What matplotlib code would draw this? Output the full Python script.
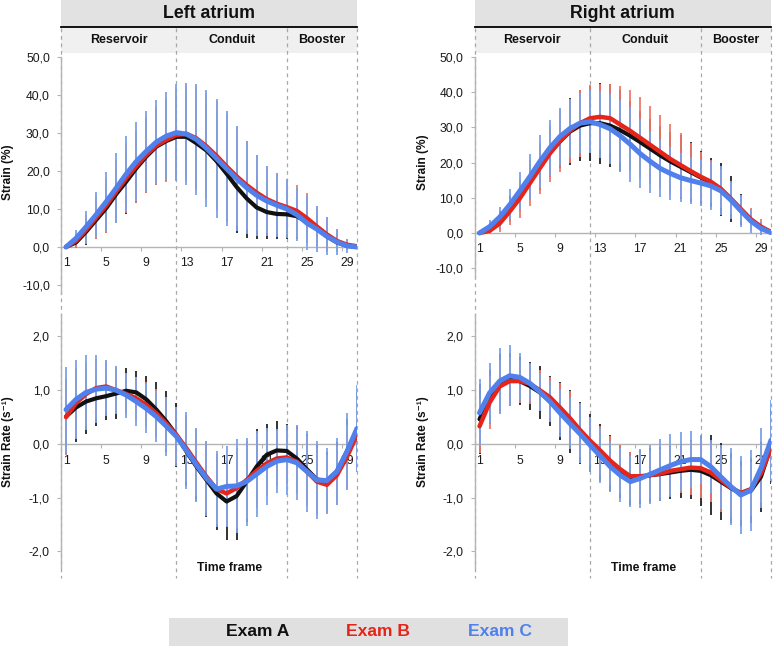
import matplotlib
matplotlib.use('Agg')
import matplotlib.pyplot as plt
from matplotlib.patches import Rectangle
from matplotlib.lines import Line2D
from matplotlib.transforms import blended_transform_factory

plt.rcParams['font.family'] = ['Liberation Sans', 'DejaVu Sans']

# ---------------- data ----------------
frames = list(range(1, 31))
x_tick_labels = [1, 5, 9, 13, 17, 21, 25, 29]
x_tick_marks = [0.5, 4.5, 8.5, 12.5, 16.5, 20.5, 24.5, 28.5]
phase_names = ['Reservoir', 'Conduit', 'Booster']
phase_bounds = [0.5, 12, 23, 30]
panel_titles = ['Left atrium', 'Right atrium']
exam_names = ['Exam A', 'Exam B', 'Exam C']
strain_ticks = [-10, 0, 10, 20, 30, 40, 50]
rate_ticks = [-2, -1, 0, 1, 2]

# Left atrium strain (%)
la_strain_A = [0, 1.2, 4.0, 7.1, 10.2, 13.9, 17.2, 20.7, 23.8, 26.4, 27.9, 29.0, 29.0, 27.3, 25.4,
               22.6, 19.3, 15.8, 12.8, 10.4, 9.2, 8.7, 8.6, 8.1, 6.6, 4.8, 2.8, 1.2, 0.3, 0.0]
la_strain_B = [0, 1.6, 4.5, 7.7, 10.9, 14.6, 18.1, 21.3, 24.2, 26.7, 28.2, 29.5, 29.8, 28.6, 26.5,
               24.0, 21.2, 18.6, 16.3, 14.3, 12.6, 11.4, 10.5, 9.5, 7.6, 5.4, 3.3, 1.6, 0.6, 0.2]
la_strain_C = [0, 2.3, 5.3, 8.5, 11.9, 15.5, 19.2, 22.5, 25.2, 27.6, 29.2, 30.1, 29.7, 28.3, 26.0,
               23.3, 20.6, 18.0, 15.6, 13.6, 12.1, 11.0, 10.0, 8.5, 6.3, 4.7, 2.8, 1.3, 0.3, 0.0]
la_strain_sd_A = [0, 1.5, 3.5, 5.0, 6.5, 7.5, 8.5, 9.0, 9.5, 10.0, 10.5, 11.0, 11.5, 12.0, 12.5,
                  12.5, 12.5, 12.0, 10.5, 8.3, 7.2, 6.7, 6.5, 6.0, 5.5, 4.5, 3.5, 2.2, 1.0, 0]
la_strain_sd_B = [0, 1.8, 3.8, 5.6, 7.2, 8.4, 9.2, 9.6, 10.0, 10.4, 11.0, 12.0, 12.5, 13.5, 14.0,
                  14.5, 14.0, 13.0, 11.5, 10.0, 8.8, 8.0, 7.3, 6.8, 6.5, 5.5, 4.5, 3.0, 1.5, 0]
la_strain_sd_C = [0, 2.1, 4.2, 6.1, 7.9, 9.2, 9.9, 10.5, 10.6, 11.0, 11.6, 12.7, 13.4, 14.6, 15.4,
                  15.7, 15.2, 13.9, 12.3, 10.7, 9.3, 8.3, 7.6, 6.9, 7.1, 6.0, 5.0, 3.4, 1.8, 0]

# Right atrium strain (%)
ra_strain_A = [0, 1.3, 3.7, 7.0, 10.8, 14.8, 18.8, 22.8, 26.0, 28.8, 30.5, 31.2, 31.2, 30.5, 29.2,
               27.6, 25.8, 23.9, 22.0, 20.3, 18.8, 17.3, 15.8, 14.4, 12.4, 9.6, 6.7, 3.8, 1.6, 0.2]
ra_strain_B = [0, 0.6, 2.7, 6.1, 9.8, 14.1, 18.4, 22.6, 26.1, 29.0, 31.2, 32.6, 33.0, 32.6, 30.8,
               29.0, 27.0, 25.0, 23.0, 21.0, 19.3, 17.6, 16.0, 14.6, 12.6, 9.8, 6.8, 3.9, 1.8, 0.3]
ra_strain_C = [0, 1.8, 4.5, 8.0, 11.9, 16.0, 20.3, 24.2, 27.4, 29.7, 31.2, 31.6, 30.8, 29.6, 27.6,
               25.2, 22.5, 20.3, 18.3, 16.9, 15.7, 14.9, 14.2, 13.4, 12.0, 9.4, 6.3, 3.4, 1.3, 0.1]
ra_strain_sd_A = [0, 1.2, 2.5, 3.5, 4.5, 5.5, 6.5, 7.0, 7.5, 9.5, 10.0, 10.7, 11.5, 11.8, 11.5,
                  10.0, 9.0, 8.5, 8.5, 8.5, 9.0, 8.5, 7.5, 7.0, 7.5, 6.5, 4.5, 2.5, 1.5, 0]
ra_strain_sd_B = [0, 1.0, 2.3, 3.7, 5.5, 6.5, 7.2, 8.0, 8.8, 9.2, 9.5, 9.5, 9.3, 9.8, 11.0,
                  11.5, 11.5, 11.0, 10.5, 10.0, 9.0, 8.0, 7.0, 6.0, 5.5, 4.5, 3.5, 3.3, 2.1, 0]
ra_strain_sd_C = [0, 1.8, 3.0, 4.4, 5.5, 6.5, 7.5, 8.0, 8.0, 8.5, 8.5, 9.0, 9.5, 10.0, 10.3,
                  10.6, 9.8, 8.8, 8.0, 7.5, 7.0, 6.8, 6.5, 6.8, 7.0, 5.5, 4.5, 3.5, 1.8, 0]

# Left atrium strain rate (1/s)
la_rate_A = [0.51, 0.68, 0.79, 0.85, 0.89, 0.94, 0.99, 0.96, 0.83, 0.64, 0.42, 0.17, -0.14, -0.42, -0.67,
             -0.92, -1.07, -0.97, -0.70, -0.42, -0.20, -0.12, -0.13, -0.27, -0.47, -0.66, -0.69, -0.51, -0.14, 0.26]
la_rate_B = [0.50, 0.76, 0.93, 1.04, 1.07, 1.00, 0.93, 0.85, 0.73, 0.57, 0.38, 0.17, -0.08, -0.35, -0.61,
             -0.84, -0.92, -0.82, -0.67, -0.50, -0.36, -0.27, -0.25, -0.33, -0.51, -0.70, -0.76, -0.58, -0.24, 0.17]
la_rate_C = [0.64, 0.83, 0.96, 1.02, 1.04, 1.00, 0.91, 0.79, 0.66, 0.51, 0.33, 0.14, -0.12, -0.39, -0.64,
             -0.84, -0.79, -0.78, -0.70, -0.56, -0.42, -0.32, -0.29, -0.35, -0.51, -0.67, -0.68, -0.51, -0.14, 0.29]
la_rate_sd_A = [0.70, 0.65, 0.60, 0.52, 0.45, 0.47, 0.42, 0.39, 0.44, 0.52, 0.57, 0.59, 0.65, 0.65, 0.68,
                0.68, 0.72, 0.82, 0.75, 0.70, 0.58, 0.55, 0.50, 0.60, 0.65, 0.65, 0.55, 0.55, 0.60, 0.70]
la_rate_sd_B = [0.70, 0.65, 0.60, 0.55, 0.48, 0.43, 0.39, 0.40, 0.42, 0.45, 0.50, 0.52, 0.62, 0.62, 0.65,
                0.65, 0.60, 0.75, 0.72, 0.70, 0.60, 0.52, 0.50, 0.60, 0.65, 0.62, 0.55, 0.55, 0.60, 0.70]
la_rate_sd_C = [0.80, 0.73, 0.70, 0.63, 0.52, 0.45, 0.42, 0.45, 0.45, 0.47, 0.55, 0.55, 0.71, 0.69, 0.70,
                0.71, 0.75, 0.88, 0.82, 0.80, 0.71, 0.60, 0.65, 0.70, 0.76, 0.72, 0.61, 0.63, 0.72, 0.81]

# Right atrium strain rate (1/s)
ra_rate_A = [0.46, 0.88, 1.13, 1.20, 1.17, 1.08, 0.96, 0.80, 0.62, 0.42, 0.21, 0.02, -0.16, -0.35, -0.51,
             -0.64, -0.61, -0.58, -0.56, -0.53, -0.50, -0.48, -0.50, -0.58, -0.70, -0.82, -0.92, -0.87, -0.61, -0.04]
ra_rate_B = [0.33, 0.77, 1.07, 1.17, 1.17, 1.12, 1.00, 0.87, 0.68, 0.48, 0.26, 0.06, -0.12, -0.31, -0.47,
             -0.60, -0.60, -0.58, -0.55, -0.50, -0.47, -0.44, -0.45, -0.53, -0.67, -0.81, -0.91, -0.84, -0.55, -0.08]
ra_rate_C = [0.58, 0.95, 1.17, 1.27, 1.24, 1.13, 0.97, 0.79, 0.58, 0.38, 0.19, -0.02, -0.22, -0.42, -0.58,
             -0.70, -0.64, -0.56, -0.48, -0.40, -0.33, -0.29, -0.29, -0.42, -0.61, -0.79, -0.95, -0.86, -0.45, 0.07]
ra_rate_sd_A = [0.65, 0.50, 0.55, 0.50, 0.45, 0.45, 0.50, 0.47, 0.54, 0.58, 0.58, 0.54, 0.53, 0.52, 0.50,
                0.50, 0.50, 0.50, 0.50, 0.50, 0.50, 0.55, 0.65, 0.75, 0.72, 0.65, 0.60, 0.60, 0.65, 0.70]
ra_rate_sd_B = [0.50, 0.50, 0.50, 0.45, 0.40, 0.38, 0.38, 0.38, 0.45, 0.50, 0.50, 0.45, 0.45, 0.45, 0.45,
                0.45, 0.45, 0.45, 0.45, 0.45, 0.45, 0.50, 0.55, 0.55, 0.60, 0.55, 0.50, 0.50, 0.55, 0.60]
ra_rate_sd_C = [0.62, 0.56, 0.61, 0.57, 0.45, 0.35, 0.35, 0.38, 0.45, 0.48, 0.55, 0.50, 0.51, 0.48, 0.50,
                0.48, 0.55, 0.55, 0.58, 0.58, 0.55, 0.53, 0.45, 0.50, 0.60, 0.72, 0.72, 0.75, 0.75, 0.75]

# ---------------- styling ----------------
line_colors = ['#111111', '#e5251a', '#4f80ec']
bar_colors = ['#222222', '#ef7a6c', '#7aa2ea']
line_widths = [3.0, 3.2, 3.6]
W, H = 777, 646
GRAY = '#b4b4b4'


def frect(x0, y0, x1, y1):
    return [x0 / W, 1 - y1 / H, (x1 - x0) / W, (y1 - y0) / H]


def fy(y):
    return 1 - y / H


fig = plt.figure(figsize=(W / 100, H / 100), dpi=100)

axLT = fig.add_axes(frect(61, 57, 357, 294.5))
axRT = fig.add_axes(frect(474.5, 57, 771, 277))
axLB = fig.add_axes(frect(61, 315, 357, 567.6))
axRB = fig.add_axes(frect(474.5, 315, 771, 567.6))

panels = [
    (axLT, [la_strain_A, la_strain_B, la_strain_C], [la_strain_sd_A, la_strain_sd_B, la_strain_sd_C],
     (-12.5, 50), strain_ticks, 11.6),
    (axRT, [ra_strain_A, ra_strain_B, ra_strain_C], [ra_strain_sd_A, ra_strain_sd_B, ra_strain_sd_C],
     (-12.5, 50), strain_ticks, 11.6),
    (axLB, [la_rate_A, la_rate_B, la_rate_C], [la_rate_sd_A, la_rate_sd_B, la_rate_sd_C],
     (-2.3, 2.4), rate_ticks, 12.2),
    (axRB, [ra_rate_A, ra_rate_B, ra_rate_C], [ra_rate_sd_A, ra_rate_sd_B, ra_rate_sd_C],
     (-2.3, 2.4), rate_ticks, 12.2),
]

for ax, means, sds, ylim, yticks, lab_off in panels:
    ax.patch.set_visible(False)
    ax.set_xlim(0.5, 30.0)
    ax.set_ylim(*ylim)
    for s in ['top', 'right', 'bottom']:
        ax.spines[s].set_visible(False)
    ax.spines['left'].set_color(GRAY)
    ax.spines['left'].set_linewidth(1.0)
    ax.set_xticks([])
    ax.set_yticks(yticks)
    ax.set_yticklabels([('%.1f' % v).replace('.', ',') for v in yticks])
    ax.tick_params(axis='y', direction='out', length=3, width=0.8, color=GRAY,
                   labelsize=8.7, pad=5, labelcolor='#1a1a1a')
    ax.axhline(0, color=GRAY, lw=1.0, zorder=1)
    ax.plot(x_tick_marks, [0] * len(x_tick_marks), ls='none', marker=3, ms=3,
            mew=0.8, color=GRAY, zorder=1)
    for f in x_tick_labels:
        ax.annotate(str(f), xy=(f, 0), xytext=(0, -lab_off), textcoords='offset points',
                    ha='center', va='center', fontsize=8.7, color='#1a1a1a', zorder=1)
    for i in range(3):
        ax.errorbar(frames, means[i], yerr=sds[i], fmt='none', ecolor=bar_colors[i],
                    elinewidth=1.3, capsize=0, zorder=2 + i * 0.1)
    for i in range(3):
        ax.plot(frames, means[i], color=line_colors[i], lw=line_widths[i],
                solid_capstyle='round', solid_joinstyle='round', zorder=3 + i * 0.1)

# headers, phase labels and dashed phase boundaries
for ax, title in [(axLT, panel_titles[0]), (axRT, panel_titles[1])]:
    tr = blended_transform_factory(ax.transData, fig.transFigure)
    x0, x1 = phase_bounds[0], phase_bounds[-1]
    fig.add_artist(Rectangle((x0, fy(27)), x1 - x0, 27 / H, transform=tr,
                             facecolor='#e2e2e2', edgecolor='none', zorder=-3))
    fig.add_artist(Rectangle((x0, fy(53)), x1 - x0, 25 / H, transform=tr,
                             facecolor='#f0f0f0', edgecolor='none', zorder=-3))
    fig.add_artist(Line2D([x0, x1], [fy(27), fy(27)], transform=tr, color='black',
                          lw=1.3, zorder=-2))
    fig.text((x0 + x1) / 2, fy(14), title, transform=tr, ha='center', va='center',
             fontsize=12.8, fontweight='bold', color='#111111')
    for b in phase_bounds:
        fig.add_artist(Line2D([b, b], [fy(28), fy(578)], transform=tr, color='#a8a8a8',
                              lw=0.9, ls=(0, (3, 3)), zorder=-1))
    for name, a, b in zip(phase_names, phase_bounds[:-1], phase_bounds[1:]):
        fig.text((a + b) / 2, fy(40), name, transform=tr, ha='center', va='center',
                 fontsize=9, fontweight='bold', color='#111111')

for ax in [axLB, axRB]:
    tr = blended_transform_factory(ax.transData, fig.transFigure)
    fig.text(17.3, fy(568), 'Time frame', transform=tr, ha='center', va='center',
             fontsize=8.8, fontweight='bold', color='#111111')

# y labels
fig.text(8 / W, fy(172), 'Strain (%)', rotation=90, ha='center', va='center',
         fontsize=8.6, fontweight='bold', color='#111111')
fig.text(423 / W, fy(162), 'Strain (%)', rotation=90, ha='center', va='center',
         fontsize=8.6, fontweight='bold', color='#111111')
fig.text(8 / W, fy(442), 'Strain Rate (s\u207b\u00b9)', rotation=90, ha='center', va='center',
         fontsize=8.6, fontweight='bold', color='#111111')
fig.text(423 / W, fy(442), 'Strain Rate (s\u207b\u00b9)', rotation=90, ha='center', va='center',
         fontsize=8.6, fontweight='bold', color='#111111')

# legend band
fig.add_artist(Rectangle((169 / W, 0), (568 - 169) / W, 28 / H, transform=fig.transFigure,
                         facecolor='#e0e0e0', edgecolor='none', zorder=-3))
legend_text_colors = ['#111111', '#e5251a', '#4f80ec']
for name, xc, c in zip(exam_names, [258, 378, 500], legend_text_colors):
    fig.text(xc / W, fy(632), name, ha='center', va='center', fontsize=12.6,
             fontweight='bold', color=c)

fig.savefig('out.png', dpi=100, facecolor='white')
